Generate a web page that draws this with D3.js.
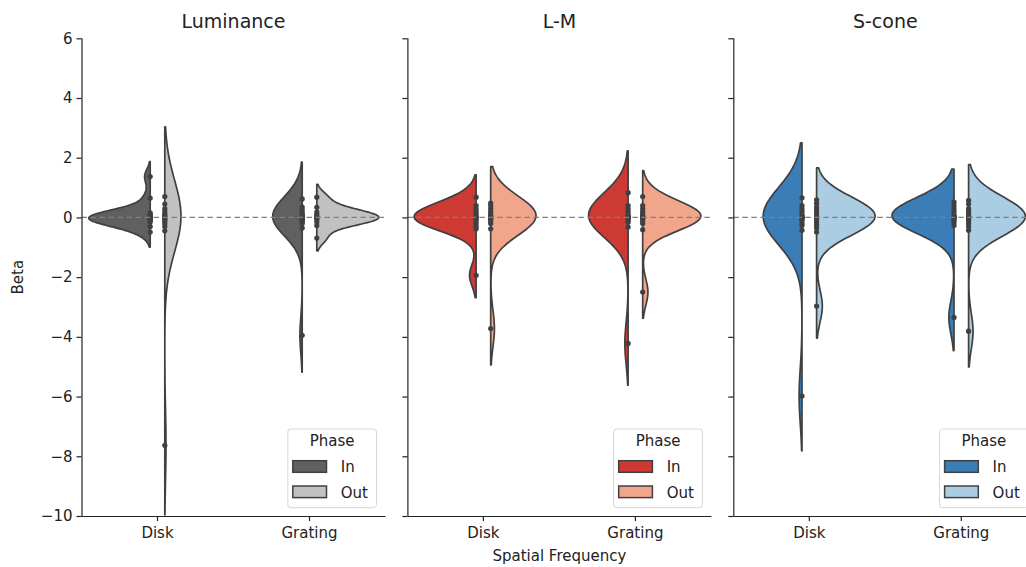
<!DOCTYPE html>
<html>
<head>
<meta charset="utf-8">
<script src="https://cdn.jsdelivr.net/npm/d3@7"></script>
<style>
  html, body { margin: 0; padding: 0; background: #fff; }
  text { font-family: "DejaVu Sans", sans-serif; fill: #222; }
</style>
</head>
<body>
<script>
// ---- data: beta values per condition ----
const panels = ["Luminance", "L-M", "S-cone"];
const categories = ["Disk", "Grating"];
const phases = ["In", "Out"];
const yTicks = [6, 4, 2, 0, -2, -4, -6, -8, -10];

const luminanceDiskIn     = [1.37, 0.65, 0.15, 0.1, 0.07, 0.04, 0.02, 0, -0.02, -0.04, -0.07, -0.1, -0.15, -0.3, -0.49];
const luminanceDiskOut    = [0.7, 0.45, 0.3, 0.2, 0.12, 0.08, 0.04, 0, -0.04, -0.08, -0.12, -0.2, -0.3, -0.45, -7.63];
const luminanceGratingIn  = [0.62, 0.35, 0.25, 0.15, 0.1, 0.06, 0.03, 0, -0.03, -0.06, -0.1, -0.15, -0.2, -0.35, -3.95];
const luminanceGratingOut = [0.68, 0.34, 0.18, 0.1, 0.05, 0, -0.03, -0.08, -0.15, -0.27, -0.69];

const lmDiskIn     = [0.68, 0.4, 0.3, 0.2, 0.12, 0.05, 0, -0.05, -0.1, -0.2, -0.3, -0.38, -1.94];
const lmDiskOut    = [0.48, 0.4, 0.3, 0.2, 0.12, 0.07, 0.03, 0, -0.03, -0.07, -0.12, -0.2, -0.38, -3.72];
const lmGratingIn  = [0.83, 0.4, 0.3, 0.2, 0.1, 0.05, 0.02, 0, -0.02, -0.05, -0.1, -0.16, -0.32, -4.22];
const lmGratingOut = [0.7, 0.4, 0.3, 0.2, 0.12, 0.07, 0.03, 0, -0.03, -0.07, -0.12, -0.2, -0.41, -2.5];

const sconeDiskIn     = [0.66, 0.4, 0.3, 0.2, 0.1, 0.05, 0.02, 0, -0.02, -0.05, -0.1, -0.2, -0.27, -0.43, -5.98];
const sconeDiskOut    = [0.59, 0.47, 0.35, 0.25, 0.15, 0.05, 0, -0.05, -0.15, -0.25, -0.35, -0.49, -2.97];
const sconeGratingIn  = [0.51, 0.4, 0.3, 0.2, 0.1, 0.05, 0.02, 0, -0.02, -0.05, -0.1, -0.18, -0.27, -3.35];
const sconeGratingOut = [0.57, 0.45, 0.3, 0.2, 0.1, 0.05, 0.02, 0, -0.02, -0.05, -0.1, -0.2, -0.3, -0.43, -3.81];

// panel -> category -> phase
const panelData = [
  { Disk: { In: luminanceDiskIn, Out: luminanceDiskOut }, Grating: { In: luminanceGratingIn, Out: luminanceGratingOut } },
  { Disk: { In: lmDiskIn, Out: lmDiskOut }, Grating: { In: lmGratingIn, Out: lmGratingOut } },
  { Disk: { In: sconeDiskIn, Out: sconeDiskOut }, Grating: { In: sconeGratingIn, Out: sconeGratingOut } }
];

// ---- styling ----
const palettes = [
  { In: "#606060", Out: "#c1c1c1" },
  { In: "#cd3a33", Out: "#f1a68b" },
  { In: "#3a7db7", Out: "#aacde3" }
];
const lineColor = "#404040";

const W = 1026, H = 567;
const plotTop = 38.3, plotBottom = 516;
const panelWidth = 304;
const panelLeft = i => 81.5 + i * 325.9;

const svg = d3.select("body").append("svg").attr("width", W).attr("height", H);
const y = d3.scaleLinear().domain([-10, 6]).range([plotBottom, plotTop]);

// Gaussian KDE with Scott's bandwidth, support extended by 2 bandwidths
function kde(vals) {
  const n = vals.length;
  const m = d3.mean(vals);
  const sd = Math.sqrt(d3.sum(vals, v => (v - m) ** 2) / (n - 1));
  const bw = sd * Math.pow(n, -0.2);
  const lo = d3.min(vals) - 2 * bw, hi = d3.max(vals) + 2 * bw;
  return d3.range(100).map(k => {
    const t = lo + (hi - lo) * k / 99;
    const d = d3.sum(vals, v => Math.exp(-0.5 * ((t - v) / bw) ** 2)) / (n * bw * Math.sqrt(2 * Math.PI));
    return [t, d];
  });
}

panels.forEach((title, i) => {
  const left = panelLeft(i), right = left + panelWidth;
  const g = svg.append("g");
  const x = d3.scaleBand().domain(categories).range([left, right]);
  const band = x.bandwidth();
  const center = c => x(c) + band / 2;
  const gap = band * 0.048;
  const maxHalf = band * 0.408;

  const clipId = "clip" + i;
  svg.append("clipPath").attr("id", clipId)
    .append("rect").attr("x", left).attr("y", plotTop).attr("width", panelWidth).attr("height", plotBottom - plotTop);

  // densities for every half, normalised by the panel maximum
  const halves = [];
  categories.forEach(c => phases.forEach(p => {
    halves.push({ c, p, vals: panelData[i][c][p], dens: kde(panelData[i][c][p]) });
  }));
  const maxD = d3.max(halves, h => d3.max(h.dens, d => d[1]));
  const w = d3.scaleLinear().domain([0, maxD]).range([0, maxHalf]);

  const plot = g.append("g").attr("clip-path", `url(#${clipId})`);
  halves.forEach(h => {
    const edge = center(h.c) + (h.p === "In" ? -gap : gap);
    const dir = h.p === "In" ? -1 : 1;
    const area = d3.area()
      .y(d => y(d[0]))
      .x0(edge)
      .x1(d => edge + dir * w(d[1]));
    plot.append("path").datum(h.dens)
      .attr("d", area)
      .attr("fill", palettes[i][h.p])
      .attr("stroke", lineColor)
      .attr("stroke-width", 1.7)
      .attr("stroke-linejoin", "round");
  });
  halves.forEach(h => {
    const edge = center(h.c) + (h.p === "In" ? -gap : gap);
    plot.selectAll(null).data(h.vals).enter().append("circle")
      .attr("cx", edge).attr("cy", d => y(d)).attr("r", 2.6)
      .attr("fill", lineColor);
  });

  // zero reference line
  g.append("line")
    .attr("x1", left).attr("x2", right).attr("y1", y(0)).attr("y2", y(0))
    .attr("stroke", "#808080").attr("stroke-width", 1.2).attr("stroke-dasharray", "5.5,3.5");

  // axes
  const yAxis = d3.axisLeft(y).tickValues(yTicks).tickSize(5).tickPadding(4)
    .tickFormat(i === 0 ? (d => d3.format("d")(d).replace("-", "\u2212")) : () => "");
  const ya = g.append("g").attr("transform", `translate(${left},0)`).call(yAxis);
  const xAxis = d3.axisBottom(x).tickSize(5).tickPadding(6);
  const xa = g.append("g").attr("transform", `translate(0,${plotBottom})`).call(xAxis);
  [ya, xa].forEach(a => {
    a.select(".domain").attr("stroke", "#222").attr("stroke-width", 1.2);
    a.selectAll(".tick line").attr("stroke", "#222").attr("stroke-width", 1.2);
    a.selectAll(".tick text").attr("font-size", 15).attr("fill", "#222")
      .style("font-family", "DejaVu Sans, sans-serif");
  });
  xa.select(".domain").attr("d", `M${left},0.5H${right}`);
  ya.select(".domain").attr("d", `M0.5,${plotTop}V${plotBottom}`);

  // title
  g.append("text").attr("x", left + panelWidth / 2).attr("y", 28)
    .attr("text-anchor", "middle").attr("font-size", 19).text(title);

  // legend
  const lw = 88.7, lh = 78.7;
  const lx = right - 9 - lw, ly = plotBottom - 8.3 - lh;
  const lg = g.append("g").attr("transform", `translate(${lx},${ly})`);
  lg.append("rect").attr("width", lw).attr("height", lh).attr("rx", 3)
    .attr("fill", "#fff").attr("fill-opacity", 0.85).attr("stroke", "#d6d6d6").attr("stroke-width", 1);
  lg.append("text").attr("x", lw / 2).attr("y", 17).attr("text-anchor", "middle")
    .attr("font-size", 15).text("Phase");
  phases.forEach((p, k) => {
    const ty = 31.7 + k * 25.3;
    lg.append("rect").attr("x", 5).attr("y", ty).attr("width", 33.7).attr("height", 11.6)
      .attr("fill", palettes[i][p]).attr("stroke", lineColor).attr("stroke-width", 1.5);
    lg.append("text").attr("x", 53).attr("y", ty + 11.5).attr("font-size", 15).text(p);
  });
});

// shared axis labels
svg.append("text").attr("x", panelLeft(1) + panelWidth / 2).attr("y", 561)
  .attr("text-anchor", "middle").attr("font-size", 15).text("Spatial Frequency");
svg.append("text").attr("transform", `translate(23,${(plotTop + plotBottom) / 2}) rotate(-90)`)
  .attr("text-anchor", "middle").attr("font-size", 15).text("Beta");
</script>
</body>
</html>
